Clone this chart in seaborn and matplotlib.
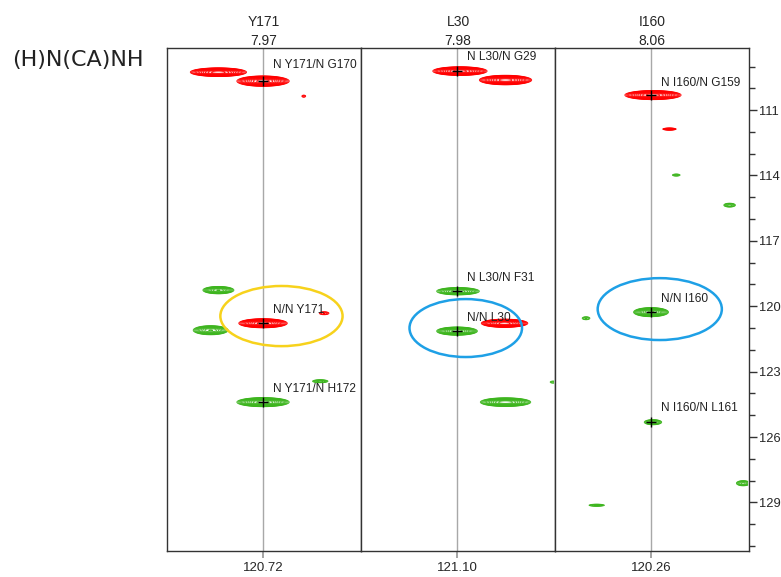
import numpy as np
import pandas as pd
import matplotlib
matplotlib.use("Agg")
import matplotlib.pyplot as plt
import seaborn as sns
from matplotlib.patches import Ellipse
from matplotlib.ticker import MultipleLocator

sns.set_theme(style="ticks")
plt.rcParams['font.family'] = ['Liberation Sans', 'DejaVu Sans']

# ---- data ----
strip_residues = ["Y171", "L30", "I160"]
strip_h_ppm = ["7.97", "7.98", "8.06"]
strip_n_ppm = ["120.72", "121.10", "120.26"]

# peaks: strip, 1H offset in strip units, 15N ppm, half-extent in x, half-extent in ppm, amplitude, phase
peak_strip = [0, 0, 0, 0, 0, 0, 0, 0, 0,
              1, 1, 1, 1, 1, 1, 1,
              2, 2, 2, 2, 2, 2, 2, 2, 2]
peak_dx = [-0.46, 0.00, 0.42, -0.46, 0.00, 0.63, -0.54, 0.59, 0.00,
           0.03, 0.50, 0.01, 0.00, 0.49, 0.50, 0.99,
           0.02, 0.19, 0.26, 0.81, 0.00, -0.67, 0.02, 0.95, -0.56]
peak_n = [109.26, 109.67, 110.36, 119.26, 120.78, 120.32, 121.10, 123.44, 124.40,
          109.21, 109.62, 119.31, 121.14, 120.78, 124.40, 123.48,
          110.31, 111.87, 113.98, 115.36, 120.27, 120.55, 125.32, 128.12, 129.13]
peak_wx = [0.29, 0.27, 0.02, 0.16, 0.25, 0.05, 0.18, 0.08, 0.27,
           0.28, 0.27, 0.22, 0.21, 0.24, 0.26, 0.03,
           0.29, 0.07, 0.04, 0.06, 0.18, 0.04, 0.09, 0.07, 0.08]
peak_wy = [0.20, 0.24, 0.05, 0.17, 0.21, 0.07, 0.21, 0.07, 0.21,
           0.20, 0.22, 0.17, 0.19, 0.19, 0.20, 0.05,
           0.21, 0.05, 0.05, 0.09, 0.21, 0.07, 0.12, 0.12, 0.05]
peak_amp = [1.0, 1.0, 0.06, 0.5, 1.0, 0.08, 0.5, 0.12, 1.0,
            1.0, 1.0, 0.5, 0.8, 1.0, 0.8, 0.06,
            1.0, 0.15, 0.07, 0.12, 0.7, 0.08, 0.2, 0.15, 0.09]
peak_phase = ["neg", "neg", "neg", "pos", "neg", "neg", "pos", "pos", "pos",
              "neg", "neg", "pos", "pos", "neg", "pos", "pos",
              "neg", "neg", "pos", "pos", "pos", "pos", "pos", "pos", "pos"]

# assigned peaks (crosshairs + labels)
assign_strip = [0, 0, 0, 1, 1, 1, 2, 2, 2]
assign_n = [109.67, 120.78, 124.40, 109.21, 119.31, 121.14, 110.31, 120.27, 125.32]
label_text = ["N Y171/N G170", "N/N Y171", "N Y171/N H172",
              "N L30/N G29", "N L30/N F31", "N/N L30",
              "N I160/N G159", "N/N I160", "N I160/N L161"]
label_n = [108.95, 120.15, 123.8, 108.55, 118.7, 120.55, 109.76, 119.67, 124.68]

# highlight ellipses
circle_strip = [0, 1, 2]
circle_dx = [0.19, 0.09, 0.09]
circle_n = [120.45, 121.0, 120.13]
circle_wx = [0.63, 0.58, 0.64]
circle_wy = [1.38, 1.33, 1.42]
circle_color = ["#f7d21c", "#1ea0e6", "#1ea0e6"]

peaks = pd.DataFrame(dict(strip=peak_strip, dx=peak_dx, n=peak_n, wx=peak_wx,
                          wy=peak_wy, amp=peak_amp, phase=peak_phase))
assign = pd.DataFrame(dict(strip=assign_strip, dx=0.0, n=assign_n))

# ---- figure ----
W, H = 781, 577
fig = plt.figure(figsize=(W / 100, H / 100), dpi=100)
left0, sw, top, bot = 167, 194, 48, 551
ylo, yhi = 108.15, 131.23
base = 0.035
levels = base * 1.3 ** np.arange(0, 14)
colors = {"pos": "#3db51e", "neg": "#ff0000"}

xg = np.linspace(-1, 1, 600)
yg = np.linspace(ylo - 0.5, yhi + 0.5, 1600)
X, Y = np.meshgrid(xg, yg)

axes = []
for i in range(3):
    ax = fig.add_axes([(left0 + i * sw) / W, 1 - bot / H, sw / W, (bot - top) / H])
    axes.append(ax)
    ax.set_xlim(-0.99, 1.01)
    ax.set_ylim(yhi, ylo)
    ax.axvline(0, color="#a8a8a8", lw=1, zorder=1)
    sub = peaks[peaks.strip == i]
    for ph in ["pos", "neg"]:
        s = sub[sub.phase == ph]
        if len(s) == 0:
            continue
        Z = np.zeros_like(X)
        for _, r in s.iterrows():
            k = np.sqrt(2 * np.log(r.amp / base)) if r.amp > base else 1.0
            sx, sy = r.wx / k, r.wy / k
            Z += r.amp * np.exp(-0.5 * ((X - r.dx) / sx) ** 2 - 0.5 * ((Y - r.n) / sy) ** 2)
        ax.contour(X, Y, Z, levels=levels, colors=colors[ph], linewidths=0.6, zorder=2)
    a = assign[assign.strip == i]
    sns.scatterplot(data=a, x="dx", y="n", marker="+", color="black", s=60,
                    linewidth=1.0, ax=ax, zorder=4, legend=False)
    for j in range(len(label_text)):
        if assign_strip[j] == i:
            ax.text(0.1, label_n[j], label_text[j], fontsize=8.6, color="#222222",
                    va="center", ha="left", zorder=5)
    for j in range(3):
        if circle_strip[j] == i:
            ax.add_patch(Ellipse((circle_dx[j], circle_n[j]), 2 * circle_wx[j], 2 * circle_wy[j],
                                 fill=False, edgecolor=circle_color[j], lw=1.8, zorder=6))
    ax.set_xticks([0])
    ax.set_xticklabels([strip_n_ppm[i]], fontsize=9.5)
    ax.tick_params(axis="x", direction="out", length=5, color="#999999", pad=3)
    ax.set_xlabel("")
    ax.set_ylabel("")
    ax.set_title(f"{strip_residues[i]}\n{strip_h_ppm[i]}", fontsize=10, pad=-1.5, linespacing=1.45)
    for sp in ax.spines.values():
        sp.set_color("#333333")
        sp.set_linewidth(1.0)
    if i < 2:
        ax.tick_params(axis="y", left=False, right=False, labelleft=False, labelright=False)
    else:
        ax.yaxis.tick_right()
        ax.yaxis.set_major_locator(MultipleLocator(3))
        ax.yaxis.set_minor_locator(MultipleLocator(1))
        ax.tick_params(axis="y", which="major", right=True, direction="out", length=6,
                       width=1, color="#333333", labelsize=9.3, pad=1)
        ax.tick_params(axis="y", which="minor", right=True, direction="out", length=4,
                       width=1, color="#333333")
        ax.set_yticklabels([f"{int(t)}" for t in ax.get_yticks()])
        ax.set_ylim(yhi, ylo)

fig.text(12 / W, 1 - 60 / H, "(H)N(CA)NH", fontsize=16, ha="left", va="center",
         color="#222222", family="DejaVu Sans")

fig.savefig("out.png", dpi=100)
